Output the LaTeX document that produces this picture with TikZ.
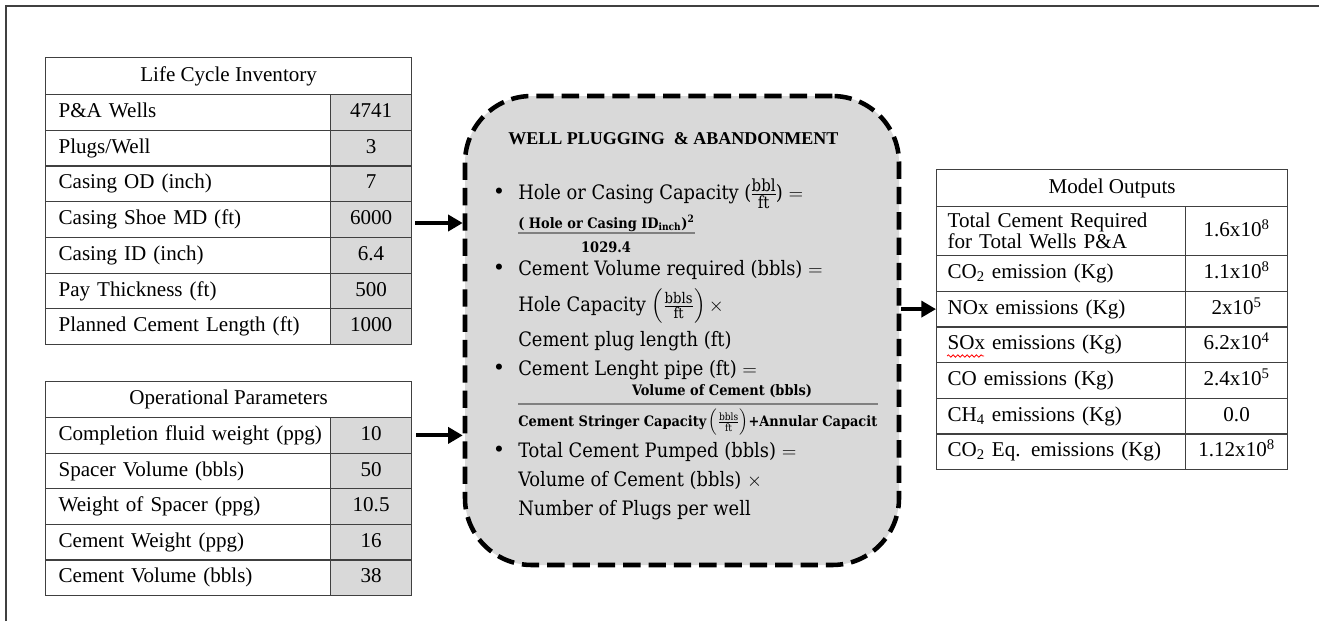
\documentclass[tikz,border=0pt]{standalone}
\usepackage{fontspec}
\usepackage{amsmath}
\setmainfont{Liberation Serif}
\newfontfamily\formfont{DejaVu Serif Condensed}
\usetikzlibrary{arrows.meta,decorations.pathmorphing}

\definecolor{cellgray}{HTML}{D9D9D9}
\definecolor{rulegray}{HTML}{404040}

\newcommand{\unitfrac}[3][11]{\frac{\text{\fontsize{#1}{12}\selectfont #2}}{\text{\fontsize{#1}{12}\selectfont #3}}}

\tikzset{
  cell/.style={draw=rulegray, line width=0.9pt, anchor=north west, inner ysep=0pt,
    font=\fontsize{15.8}{16.5}\selectfont, text height=11pt, text depth=3.5pt},
  titlecell/.style={cell, align=center},
  labcell/.style={cell, align=left, inner xsep=2pt, text width=209.75pt, minimum height=26.8pt,
    execute at begin node=\hspace*{7.75pt}},
  valcell/.style={cell, fill=cellgray, minimum width=60.75pt, minimum height=26.8pt},
  outlab/.style={cell, align=left, inner xsep=8.25pt, text width=170.25pt, minimum height=26.75pt},
  outval/.style={cell, minimum width=76.5pt, minimum height=26.75pt},
  wellbox/.style={draw, line width=3.4pt, dash pattern=on 13pt off 6pt, rounded corners=50pt,
    fill=cellgray, minimum width=325.5pt, minimum height=351.75pt},
  formline/.style={anchor=base west, inner sep=0pt, font=\formfont\fontsize{14.9}{17}\selectfont},
  formsmall/.style={inner sep=0pt, font=\formfont\bfseries\fontsize{10.8}{12}\selectfont},
  bul/.style={anchor=base, inner sep=0pt, font=\fontsize{19}{20}\selectfont},
  flow/.style={line width=3pt, -{Triangle[length=11pt,width=12pt]}},
}

\begin{document}
\begin{tikzpicture}[x=0.75pt, y=-0.75pt]
  \useasboundingbox (0,0) rectangle (1319,621);
  % --- frame (top and left only) ---
  \draw[rulegray, line width=1.1pt] (6,621) -- (6,6) -- (1319,6);

  % --- Life Cycle Inventory ---
  \node[titlecell, minimum width=274.5pt, minimum height=27.75pt] (lci) at (45,57) {Life Cycle Inventory};
  \foreach \lab/\val [count=\i] in {P\&A Wells/4741, {Plugs/Well}/3, Casing OD (inch)/7,
      Casing Shoe MD (ft)/6000, Casing ID (inch)/6.4, Pay Thickness (ft)/500,
      Planned Cement Length (ft)/1000}{
    \pgfmathsetmacro\y{94+35.71*(\i-1)}
    \node[labcell] (lci-l\i) at (45,\y) {\lab};
    \node[valcell] (lci-v\i) at (330,\y) {\val};
  }

  % --- Operational Parameters ---
  \node[titlecell, minimum width=274.5pt, minimum height=27pt] (op) at (45,381) {Operational Parameters};
  \foreach \lab/\val [count=\i] in {Completion fluid weight (ppg)/10, Spacer Volume (bbls)/50,
      Weight of Spacer (ppg)/10.5, Cement Weight (ppg)/16, Cement Volume (bbls)/38}{
    \pgfmathsetmacro\y{417+35.6*(\i-1)}
    \node[labcell, minimum height=26.7pt] (op-l\i) at (45,\y) {\lab};
    \node[valcell, minimum height=26.7pt] (op-v\i) at (330,\y) {\val};
  }

  % --- Well plugging & abandonment box ---
  \node[wellbox] (well) at (682,330.5) {};
  \node[anchor=base west, inner sep=0pt, font=\bfseries\fontsize{13.5}{15}\selectfont] (well-t)
    at (508,144) {WELL PLUGGING \ \& ABANDONMENT};
  % bullets
  \node[bul] (b1) at (499,199) {\textbullet};
  \node[bul] (b2) at (499,275) {\textbullet};
  \node[bul] (b3) at (499,375) {\textbullet};
  \node[bul] (b4) at (499,457) {\textbullet};
  % formulas
  \node[formline] (f-l1) at (518,199) {Hole or Casing Capacity (\kern-1pt$\unitfrac[12.5]{bbl}{ft}$\kern-1pt) $=$};
  \node[formsmall, anchor=base west] (f1n) at (518,228) {( Hole or Casing ID\textsubscript{inch})\textsuperscript{2}};
  \draw[gray, line width=1.4pt] (f1n.base west) ++(0,5) coordinate (r1a) -- (r1a -| f1n.east);
  \node[formsmall, anchor=base] (f1d) at (606,252) {1029.4};
  \node[formline] (f-l2) at (518,275) {Cement Volume required (bbls) $=$};
  \node[formline] (f-l3) at (518,311) {Hole Capacity $\left(\unitfrac{bbls}{ft}\right)\times$};
  \node[formline] (f-l4) at (518,346) {Cement plug length (ft)};
  \node[formline] (f-l5) at (518,375) {Cement Lenght pipe (ft) $=$};
  \node[formsmall, anchor=base] (f2n) at (722,395) {Volume of Cement (bbls)};
  \draw[gray, line width=1.4pt] (518,404) -- (878,404);
  \begin{scope}
    \clip (518,406) rectangle (878,445);
    \node[formsmall, anchor=base west] (f2d) at (518,426)
      {Cement Stringer Capacity\,$\left(\frac{\text{\mdseries bbls}}{\text{\mdseries ft}}\right)$+Annular Capacit};
  \end{scope}
  \node[formline] (f-l6) at (518,457) {Total Cement Pumped (bbls) $=$};
  \node[formline] (f-l7) at (518,486) {Volume of Cement (bbls) $\times$};
  \node[formline] (f-l8) at (518,515) {Number of Plugs per well};

  % --- Model Outputs ---
  \node[titlecell, minimum width=263.25pt, minimum height=27.75pt] (out) at (936,169) {Model Outputs};
  \node[outlab, minimum height=36.75pt, text height=, text depth=, font=\fontsize{15.8}{15.5}\selectfont]
    (out-l1) at (936,206) {Total Cement Required\\for Total Wells P\&A};
  \node[outval, minimum height=36.75pt] (out-v1) at (1185,206) {1.6x10\textsuperscript{8}};
  \foreach \lab/\val [count=\i from 2] in {CO\textsubscript{2} emission (Kg)/1.1x10\textsuperscript{8},
      NOx emissions (Kg)/2x10\textsuperscript{5}, SOx emissions (Kg)/6.2x10\textsuperscript{4},
      CO emissions (Kg)/2.4x10\textsuperscript{5}, CH\textsubscript{4} emissions (Kg)/0.0,
      CO\textsubscript{2} Eq. emissions (Kg)/1.12x10\textsuperscript{8}}{
    \pgfmathsetmacro\y{255+35.67*(\i-2)}
    \node[outlab] (out-l\i) at (936,\y) {\lab};
    \node[outval] (out-v\i) at (1185,\y) {\val};
  }
  % spell-check squiggle under SOx
  \draw[red, line width=0.6pt, decorate, decoration={snake, amplitude=0.9pt, segment length=3.5pt}]
    (947,356) -- (984,356);

  % --- arrows ---
  \coordinate (in1) at (415,223);
  \draw[flow] (in1) -- (in1 -| well.west);
  \draw[flow] ([xshift=3pt]op-v1.east) -- (op-v1.east -| well.west);
  \draw[flow] (out-l3.west -| well.east) -- (out-l3.west);
\end{tikzpicture}
\end{document}
